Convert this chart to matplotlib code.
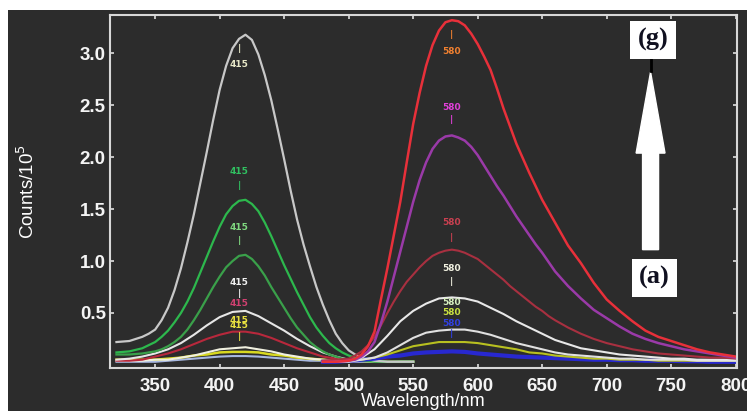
import numpy as np
import matplotlib
matplotlib.use("Agg")
import matplotlib.pyplot as plt
from matplotlib.patches import Rectangle, FancyArrow

# wavelength grids (nm)
wl_blue = np.arange(320, 551, 10)
wl_blue_fine = np.concatenate([[320, 330], np.arange(340, 511, 5), [520, 530, 540, 550]])
wl_red = np.arange(480, 801, 10)
wl_red_fine = np.concatenate([[480, 490], np.arange(500, 661, 5), np.arange(670, 801, 10)])

# emission band near 415 nm (counts / 1e5)
grey_415 = [0.22, 0.23,
            0.27, 0.30, 0.34, 0.43, 0.55, 0.72, 0.93, 1.18, 1.45, 1.75, 2.05, 2.36,
            2.65, 2.88, 3.05, 3.14, 3.18, 3.13, 2.99, 2.79, 2.55, 2.27, 1.98, 1.68,
            1.40, 1.16, 0.95, 0.75, 0.58, 0.43, 0.30, 0.21, 0.14, 0.10, 0.07,
            0.04, 0.03, 0.03, 0.03]
green1_415 = [0.12, 0.13,
              0.16, 0.19, 0.22, 0.27, 0.33, 0.41, 0.50, 0.61, 0.74, 0.89, 1.04, 1.19,
              1.33, 1.45, 1.53, 1.58, 1.59, 1.55, 1.48, 1.37, 1.24, 1.10, 0.96, 0.83,
              0.70, 0.58, 0.46, 0.36, 0.28, 0.21, 0.16, 0.12, 0.09, 0.07, 0.05,
              0.04, 0.03, 0.03, 0.03]
green2_415 = [0.10, 0.10,
              0.11, 0.12, 0.13, 0.15, 0.18, 0.22, 0.27, 0.34, 0.43, 0.53, 0.64, 0.75,
              0.85, 0.94, 1.00, 1.05, 1.06, 1.02, 0.95, 0.86, 0.75, 0.65, 0.55, 0.45,
              0.36, 0.29, 0.22, 0.17, 0.13, 0.10, 0.08, 0.06, 0.05, 0.045, 0.04,
              0.03, 0.03, 0.03, 0.03]
white_415 = [0.05, 0.06, 0.08, 0.11, 0.15, 0.21, 0.29, 0.38, 0.46, 0.51, 0.52, 0.47,
             0.40, 0.33, 0.25, 0.18, 0.12, 0.08, 0.05, 0.04, 0.04, 0.03, 0.03, 0.03]
darkred_415 = [0.04, 0.04, 0.05, 0.08, 0.11, 0.15, 0.20, 0.25, 0.29, 0.32, 0.32, 0.30,
               0.26, 0.21, 0.16, 0.12, 0.08, 0.06, 0.05, 0.04, 0.04, 0.04, 0.03, 0.03]
white2_415 = [0.04, 0.04, 0.04, 0.05, 0.05, 0.07, 0.09, 0.12, 0.15, 0.16, 0.17, 0.15,
              0.13, 0.10, 0.08, 0.06, 0.05, 0.04, 0.04, 0.04, 0.03, 0.03, 0.03, 0.03]
yellow_415 = [0.05, 0.05, 0.05, 0.05, 0.06, 0.07, 0.09, 0.10, 0.12, 0.125, 0.125, 0.12,
              0.10, 0.09, 0.07, 0.06, 0.05, 0.04, 0.04, 0.04, 0.03, 0.03, 0.03, 0.03]
ltblue_415 = [0.03, 0.03, 0.03, 0.03, 0.04, 0.05, 0.06, 0.07, 0.08, 0.085, 0.085, 0.08,
              0.07, 0.06, 0.05, 0.04, 0.04, 0.03, 0.03, 0.03, 0.03, 0.03, 0.03, 0.03]

# emission band near 580 nm
red_580 = [0.03, 0.03,
           0.04, 0.06, 0.10, 0.18, 0.32, 0.63, 0.93, 1.25, 1.57, 1.95, 2.32, 2.62, 2.88,
           3.08, 3.22, 3.30, 3.32, 3.31, 3.27, 3.19, 3.09, 2.97, 2.84, 2.66, 2.47, 2.30,
           2.13, 1.99, 1.85, 1.72, 1.59, 1.48, 1.37,
           1.15, 0.98, 0.79, 0.63, 0.52, 0.42, 0.33, 0.27, 0.23, 0.19, 0.15, 0.12, 0.10, 0.08]
purple_580 = [0.03, 0.03,
              0.04, 0.05, 0.08, 0.13, 0.22, 0.40, 0.61, 0.85, 1.09, 1.33, 1.57, 1.78, 1.95,
              2.08, 2.16, 2.20, 2.21, 2.19, 2.16, 2.10, 2.02, 1.92, 1.82, 1.72, 1.63, 1.53,
              1.43, 1.34, 1.25, 1.16, 1.08, 0.99, 0.90,
              0.76, 0.64, 0.53, 0.45, 0.37, 0.30, 0.25, 0.21, 0.18, 0.15, 0.13, 0.11, 0.09, 0.07]
darkred_580 = [0.04, 0.05,
               0.06, 0.09, 0.13, 0.19, 0.27, 0.38, 0.50, 0.61, 0.71, 0.80, 0.87, 0.94, 1.00,
               1.05, 1.08, 1.10, 1.11, 1.10, 1.08, 1.05, 1.02, 0.97, 0.92, 0.87, 0.82, 0.76,
               0.71, 0.66, 0.61, 0.56, 0.52, 0.47, 0.43,
               0.36, 0.30, 0.25, 0.21, 0.18, 0.15, 0.13, 0.11, 0.10, 0.09, 0.08, 0.07, 0.07, 0.06]
white_580 = [0.03, 0.03, 0.04, 0.07, 0.15, 0.28, 0.42, 0.52, 0.59, 0.64, 0.65, 0.64, 0.61,
             0.55, 0.49, 0.42, 0.36, 0.30, 0.24, 0.20, 0.16, 0.14, 0.12, 0.10, 0.09, 0.08,
             0.07, 0.06, 0.06, 0.05, 0.05, 0.05, 0.05]
white2_580 = [0.03, 0.03, 0.03, 0.05, 0.07, 0.12, 0.19, 0.26, 0.31, 0.33, 0.34, 0.34, 0.32,
              0.29, 0.25, 0.21, 0.18, 0.15, 0.12, 0.10, 0.09, 0.08, 0.07, 0.06, 0.06, 0.05,
              0.05, 0.05, 0.05, 0.04, 0.04, 0.04, 0.04]
yellow_580 = [0.04, 0.04, 0.04, 0.05, 0.07, 0.10, 0.14, 0.18, 0.20, 0.22, 0.22, 0.22, 0.21,
              0.19, 0.17, 0.15, 0.12, 0.11, 0.09, 0.08, 0.07, 0.06, 0.06, 0.05, 0.05, 0.05,
              0.04, 0.04, 0.04, 0.04, 0.04, 0.04, 0.04]
blue_580 = [0.03, 0.03, 0.04, 0.05, 0.06, 0.08, 0.09, 0.11, 0.12, 0.125, 0.13, 0.125, 0.11,
            0.10, 0.09, 0.08, 0.075, 0.07, 0.065, 0.06, 0.055, 0.05, 0.05, 0.045, 0.045, 0.04,
            0.04, 0.04, 0.035, 0.035, 0.03, 0.03, 0.03]

# peak labels: (x, y of text, y of tick, colour)
labels_415 = [(415, 2.89, 3.05, '#e8e8c8'), (415, 1.86, 1.73, '#30c060'),
              (415, 1.32, 1.20, '#80d880'), (415, 0.79, 0.69, '#f0f0f0'),
              (415, 0.59, None, '#d04070'), (415, 0.43, 0.27, '#e8e040'),
              (415, 0.38, None, '#e8e040')]
labels_580 = [(580, 3.02, 3.18, '#f08030'), (580, 2.48, 2.36, '#e040d8'),
              (580, 1.37, 1.23, '#c84050'), (580, 0.93, 0.80, '#f0f0e0'),
              (580, 0.60, None, '#d8f0c0'), (580, 0.50, None, '#c8e040'),
              (580, 0.40, 0.30, '#3040e0')]

bg = '#2c2c2c'
fig = plt.figure(figsize=(7.47, 4.11), dpi=100, facecolor='white')
fig.patches.append(Rectangle((8 / 747, 0), 1, 1 - 10 / 411, transform=fig.transFigure,
                             facecolor=bg, edgecolor='none', zorder=-10))
ax = fig.add_axes([110 / 747, 43 / 411, 627 / 747, 353 / 411])
ax.set_facecolor(bg)

ax.plot(wl_blue, ltblue_415, color='#a8b8e0', lw=1.5)
ax.plot(wl_blue, yellow_415, color='#d8d820', lw=1.8)
ax.plot(wl_blue, white2_415, color='#f0f0e0', lw=1.5)
ax.plot(wl_blue, darkred_415, color='#b8283c', lw=1.5)
ax.plot(wl_blue, white_415, color='#e6e6e6', lw=1.5)
ax.plot(wl_blue_fine, green2_415, color='#3aa04a', lw=1.6)
ax.plot(wl_blue_fine, green1_415, color='#2db84d', lw=1.6)
ax.plot(wl_blue_fine, grey_415, color='#c8c8c8', lw=1.6)

ax.plot(wl_red, blue_580, color='#2828d0', lw=3)
ax.plot(wl_red, yellow_580, color='#b8c020', lw=1.5)
ax.plot(wl_red, white2_580, color='#e0e0e0', lw=1.5)
ax.plot(wl_red, white_580, color='#e8e8e8', lw=1.5)
ax.plot(wl_red_fine, darkred_580, color='#a83040', lw=1.5)
ax.plot(wl_red_fine, purple_580, color='#9a3aa8', lw=1.8)
ax.plot(wl_red_fine, red_580, color='#e8303a', lw=1.8)

for x, y, ytick, c in labels_415 + labels_580:
    ax.text(x, y, str(x), color=c, fontsize=6.5, fontweight='bold',
            ha='center', va='center')
    if ytick is not None:
        ax.text(x, ytick, '|', color=c, fontsize=6.5, fontweight='bold',
                ha='center', va='center')

# arrow from (a) to (g)
ax.add_patch(FancyArrow(734, 1.11, 0, 1.71, width=12.4, head_width=22.4,
                        head_length=0.78, length_includes_head=True,
                        color='white', zorder=5))
ax.plot([734, 734], [2.83, 2.95], color='black', lw=2, zorder=6)
box = dict(boxstyle='square,pad=0.28', facecolor='white', edgecolor='none')
ax.text(736, 3.13, '(g)', fontsize=19, fontweight='bold', family='Liberation Serif',
        color='#101020', ha='center', va='center', bbox=box, zorder=7)
ax.text(737, 0.84, '(a)', fontsize=19, fontweight='bold', family='Liberation Serif',
        color='#101020', ha='center', va='center', bbox=box, zorder=7)

ax.set_xlim(315, 801)
ax.set_ylim(-0.03, 3.37)
ax.set_xticks(np.arange(350, 801, 50))
ax.set_yticks([0.5, 1.0, 1.5, 2.0, 2.5, 3.0])
ax.tick_params(direction='in', top=True, right=True, length=3, width=1.2,
               color='#e0e0e0', labelcolor='#f4f4f4', labelsize=13.5)
ax.tick_params(axis='x', pad=7)
ax.tick_params(axis='y', pad=3)
for lab in ax.get_xticklabels() + ax.get_yticklabels():
    lab.set_fontweight('bold')
    lab.set_family('Liberation Sans')
for s in ax.spines.values():
    s.set_color('#d8d8d8')
    s.set_linewidth(1.5)

ax.set_xlabel('Wavelength/nm', color='white', fontsize=13, family='Liberation Sans',
              labelpad=-1)
ax.set_ylabel('Counts/10$^5$', color='white', fontsize=13.5, family='Liberation Sans',
              labelpad=30)

fig.savefig('out.png', dpi=100, facecolor=fig.get_facecolor())
